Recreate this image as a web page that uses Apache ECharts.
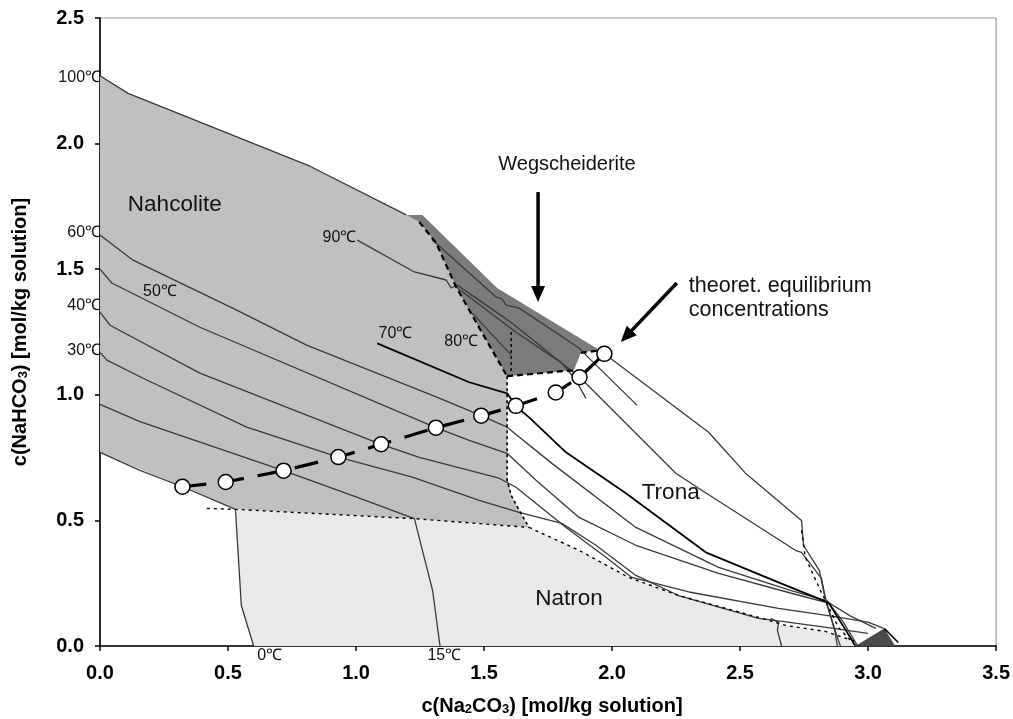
<!DOCTYPE html>
<html><head><meta charset="utf-8">
<script src="https://cdn.jsdelivr.net/npm/echarts@6/dist/echarts.min.js"></script>
<style>html,body{margin:0;padding:0;background:#fff}#c{width:1013px;height:719px}</style>
</head><body><div id="c"></div>
<script>
// ---------- tick labels ----------
const xTickValues = [0, 0.5, 1.0, 1.5, 2.0, 2.5, 3.0, 3.5];
const yTickValues = [0, 0.5, 1.0, 1.5, 2.0, 2.5];

// ---------- phase fields (polygons, data units) ----------
const nahcolite = [[0,2.27],[0.11,2.20],[0.82,1.91],[1.196,1.716],[1.247,1.688],[1.313,1.604],[1.391,1.429],[1.493,1.246],[1.590,1.074],[1.590,0.680],[1.606,0.600],[1.637,0.540],[1.664,0.490],[1.676,0.472],[1.228,0.507],[0.529,0.544],[0.322,0.634],[0,0.771]];
const natron = [[0.529,0.544],[1.228,0.507],[1.676,0.472],[1.871,0.381],[2.065,0.273],[2.260,0.201],[2.572,0.114],[2.677,0.082],[2.833,0.058],[2.950,0.012],[2.950,0],[0.600,0],[0.552,0.161]];
const wegscheiderite = [[1.196,1.716],[1.259,1.716],[1.551,1.425],[1.949,1.179],[1.878,1.167],[1.851,1.098],[1.590,1.074],[1.493,1.246],[1.391,1.429],[1.313,1.604],[1.247,1.688]];
const thermonatrite = [[2.950,0],[3.063,0.070],[3.106,0]];

// ---------- isotherms ----------
const iso0   = [[0,0.771],[0.156,0.699],[0.322,0.634],[0.529,0.544],[0.552,0.161],[0.600,0]];
const iso15  = [[0,0.962],[0.156,0.893],[0.717,0.698],[1.0,0.594],[1.228,0.507],[1.299,0.221],[1.328,0]];
const iso30  = [[0,1.169],[0.027,1.138],[0.168,1.066],[0.573,0.871],[0.931,0.752],[1.220,0.672],[1.481,0.580],[1.637,0.532],[1.804,0.488],[1.937,0.401],[2.093,0.281],[2.260,0.201],[2.572,0.110],[2.65,0.100],[2.83,0.075],[3.00,0.050]];
const iso40  = [[0,1.329],[0.039,1.277],[0.39,1.086],[1.098,0.803],[1.247,0.751],[1.559,0.668],[1.625,0.632],[1.820,0.472],[1.976,0.353],[2.077,0.273],[2.30,0.215],[2.65,0.150],[2.85,0.120],[3.00,0.095],[3.06,0.070]];
const iso50  = [[0,1.50],[0.046,1.445],[0.39,1.269],[1.312,0.869],[1.442,0.819],[1.590,0.767],[1.703,0.660],[1.871,0.512],[2.093,0.401],[2.416,0.289],[2.70,0.210],[2.85,0.170],[2.93,0.120],[3.03,0.070]];
const iso60  = [[0,1.636],[0.129,1.536],[0.526,1.341],[0.807,1.198],[1.325,0.987],[1.489,0.917],[1.590,0.871],[1.765,0.727],[2.093,0.472],[2.416,0.313],[2.70,0.220],[2.84,0.180],[2.90,0.100],[2.96,0]];
const iso70  = [[1.083,1.205],[1.442,1.050],[1.590,1.006],[1.625,0.954],[1.676,0.910],[1.820,0.771],[2.054,0.608],[2.366,0.373],[2.650,0.253],[2.845,0.173],[2.884,0.110],[2.950,0.002]];
const iso80  = [[1.454,1.325],[1.606,1.158]];
const iso90  = [[1.005,1.616],[1.228,1.489],[1.352,1.457],[1.372,1.425],[1.395,1.437],[1.520,1.349],[1.610,1.285],[1.804,1.126],[1.874,1.070],[2.249,0.688],[2.338,0.628],[2.716,0.381],[2.740,0.373],[2.818,0.269],[2.837,0.173],[2.884,0.022],[2.892,0]];
const iso100 = [[0,2.27],[0.11,2.20],[0.82,1.91],[1.196,1.716]];
const iso100b = [[1.970,1.163],[2.377,0.851],[2.521,0.688],[2.740,0.500],[2.748,0.400],[2.810,0.300],[2.830,0.200],[2.870,0.060],[2.880,0]];
const stubA  = [[1.298,1.616],[1.547,1.389],[1.571,1.381],[1.586,1.357],[1.637,1.345],[1.871,1.186],[1.910,1.146],[2.097,0.959]];
const stubB  = [[1.391,1.429],[1.625,1.249],[1.804,1.126],[1.859,1.058],[1.898,0.986]];
const ice267 = [[2.619,0.110],[2.650,0.094],[2.646,0.062],[2.662,0]];
const thermoEdge = [[3.063,0.070],[3.118,0.014]];

// ---------- field boundaries ----------
const bNahNatron = [[0.417,0.548],[0.529,0.544],[1.228,0.507],[1.676,0.472]];
const bNahTrona  = [[1.590,1.074],[1.590,0.660],[1.606,0.600],[1.637,0.540],[1.676,0.472]];
const bTronaNatron = [[1.676,0.472],[1.871,0.381],[2.065,0.273],[2.260,0.201],[2.572,0.114],[2.677,0.082],[2.833,0.058],[2.950,0.018]];
const bTronaThermo = [[2.740,0.460],[2.755,0.353],[2.814,0.221],[2.884,0.074],[2.950,0.002]];
const bWegLeft   = [[1.247,1.688],[1.313,1.604],[1.391,1.429],[1.493,1.246],[1.590,1.074]];
const bWegBottom = [[1.590,1.074],[1.851,1.098]];
const bWegTip    = [[1.878,1.167],[1.968,1.179]];
const bWegInner  = [[1.606,1.250],[1.606,1.085]];

// ---------- theoretical equilibrium concentrations ----------
const eqX = [0.322,0.491,0.717,0.931,1.098,1.312,1.489,1.624,1.780,1.873,1.970];
const eqY = [0.634,0.653,0.698,0.752,0.803,0.869,0.917,0.956,1.009,1.070,1.163];

// ---------- annotations ----------
const fieldNames = ['Nahcolite','Trona','Natron'];
const fieldNamePos = [[0.292,1.756],[2.229,0.608],[1.832,0.189]];
const wegName = ['Wegscheiderite'];
const wegPos = [[1.824,1.915]];
const noteLines = ['theoret. equilibrium','concentrations'];
const notePos = [[2.30,1.432],[2.30,1.337]];
const tempNames = ['100℃','60℃','40℃','30℃','50℃','90℃','70℃','80℃','0℃','15℃'];
const tempPos = [[0.004,2.262],[0.004,1.644],[0.004,1.357],[0.004,1.177],[0.234,1.409],[0.935,1.624],[1.154,1.245],[1.411,1.213],[0.663,-0.038],[1.345,-0.038]];
const tempAlign = ['right','right','right','right','center','center','center','center','center','center'];
const arrows = [[1.711,1.807,1.711,1.369],[2.253,1.445,2.034,1.210]];

const FONT = '"Liberation Sans", Arial, sans-serif';
const LINE = '#3a3a3a';

function polygon(name, pts, fill, z){
  return {type:'custom', name, coordinateSystem:'cartesian2d', data: pts, z, silent:true, clip:true,
    renderItem(params, api){
      if (params.dataIndex !== 0) return null;
      return {type:'polygon', shape:{points: pts.map(p => api.coord(p))}, style:{fill}};
    }};
}
function line(name, pts, opts){
  return Object.assign({type:'line', name, data: pts, symbol:'none', silent:true, animation:false, z:3,
    lineStyle:{color: LINE, width:1.3}}, opts || {});
}
function texts(names, pos, font, aligns){
  return {type:'custom', coordinateSystem:'cartesian2d', data: pos, z:10, silent:true, clip:false,
    renderItem(params, api){
      const p = api.coord(pos[params.dataIndex]);
      const a = aligns ? aligns[params.dataIndex] : 'center';
      return {type:'text', x:p[0], y:p[1], style:{text: names[params.dataIndex], align:a, verticalAlign:'middle', textAlign:a, textVerticalAlign:'middle', fill:'#111', font}};
    }};
}

const series = [
  polygon('Nahcolite', nahcolite, '#c0c0c0', 1),
  polygon('Natron', natron, '#e9e9e9', 1),
  polygon('Wegscheiderite', wegscheiderite, '#7b7b7b', 1),
  polygon('Thermonatrite', thermonatrite, '#4a4a4a', 1),
  line('0C', iso0), line('15C', iso15), line('30C', iso30), line('40C', iso40),
  line('50C', iso50), line('60C', iso60),
  line('70C', iso70, {lineStyle:{color:'#000', width:1.8}}),
  line('80C', iso80), line('90C', iso90), line('100C', iso100), line('100Cb', iso100b),
  line('stubA', stubA), line('stubB', stubB), line('ice267', ice267),
  line('thermoEdge', thermoEdge, {lineStyle:{color:'#000', width:1.6}}),
  line('bNN', bNahNatron, {lineStyle:{color:'#000', width:1.4, type:[3,4]}}),
  line('bNT', bNahTrona, {lineStyle:{color:'#000', width:1.6, type:[3,3]}}),
  line('bTN', bTronaNatron, {lineStyle:{color:'#000', width:1.4, type:[3,4]}}),
  line('bTT', bTronaThermo, {lineStyle:{color:'#000', width:1.4, type:[3,4]}}),
  line('bWL', bWegLeft, {lineStyle:{color:'#000', width:2.2, type:[6,4]}}),
  line('bWB', bWegBottom, {lineStyle:{color:'#000', width:2.2, type:[6,4]}}),
  line('bWT', bWegTip, {lineStyle:{color:'#000', width:2.2, type:[6,4]}}),
  line('bWI', bWegInner, {lineStyle:{color:'#000', width:1.5, type:[3,3]}}),
  line('eqLine', eqX.map((x,i)=>[x,eqY[i]]), {z:5, lineStyle:{color:'#000', width:3.2, type:[24,14]}}),
  {type:'scatter', name:'eq', data: eqX.map((x,i)=>[x,eqY[i]]), symbol:'circle', symbolSize:15, z:6, silent:true,
    itemStyle:{color:'#fff', borderColor:'#000', borderWidth:1.5, opacity:1}},
  texts(fieldNames, fieldNamePos, '22.5px ' + FONT),
  texts(wegName, wegPos, '20px ' + FONT),
  texts(noteLines, notePos, '21.5px ' + FONT, ['left','left']),
  texts(tempNames, tempPos, '16px ' + FONT, tempAlign),
  {type:'custom', coordinateSystem:'cartesian2d', data: arrows, encode:{x:[0,2], y:[1,3]}, z:9, silent:true, clip:false,
    renderItem(params, api){
      const a = arrows[params.dataIndex];
      const p1 = api.coord([a[0],a[1]]), p2 = api.coord([a[2],a[3]]);
      const dx = p2[0]-p1[0], dy = p2[1]-p1[1], L = Math.hypot(dx,dy), ux = dx/L, uy = dy/L;
      const hl = 16, hw = 7;
      const bx = p2[0]-ux*hl, by = p2[1]-uy*hl;
      return {type:'group', children:[
        {type:'line', shape:{x1:p1[0], y1:p1[1], x2:bx+ux*2, y2:by+uy*2}, style:{stroke:'#000', lineWidth:3.5}},
        {type:'polygon', shape:{points:[[p2[0],p2[1]],[bx-uy*hw, by+ux*hw],[bx+uy*hw, by-ux*hw]]}, style:{fill:'#000'}}
      ]};
    }}
];

const chart = echarts.init(document.getElementById('c'), null, {renderer:'canvas'});
chart.setOption({
  animation:false,
  backgroundColor:'#fff',
  grid:{left:100, right:15, top:18, bottom:73, show:true, borderColor:'#9a9a9a', borderWidth:1.2, backgroundColor:'transparent'},
  xAxis:{type:'value', min:0, max:3.5, interval:0.5,
    axisLine:{show:true, onZero:false, lineStyle:{color:'#000', width:1.6}},
    axisTick:{show:true, length:5, lineStyle:{color:'#000', width:1.5}},
    axisLabel:{show:true, color:'#000', fontSize:20, fontWeight:'bold', fontFamily:FONT, margin:17,
      formatter: v => xTickValues.includes(v) ? v.toFixed(1) : ''},
    splitLine:{show:false}},
  yAxis:{type:'value', min:0, max:2.5, interval:0.5,
    axisLine:{show:true, onZero:false, lineStyle:{color:'#000', width:1.6}},
    axisTick:{show:true, length:5, lineStyle:{color:'#000', width:1.5}},
    axisLabel:{show:true, color:'#000', fontSize:20, fontWeight:'bold', fontFamily:FONT, margin:16,
      formatter: v => yTickValues.includes(v) ? v.toFixed(1) : ''},
    splitLine:{show:false}},
  graphic:[
    {type:'text', x:552, y:706, style:{text:'c(Na{s|2}CO{s|3}) [mol/kg solution]', align:'center', verticalAlign:'middle', textAlign:'center', textVerticalAlign:'middle',
      font:'bold 20px ' + FONT, fill:'#000',
      rich:{s:{fontSize:13, fontWeight:'bold', fontFamily:FONT, verticalAlign:'bottom', lineHeight:12, fill:'#000'}}}},
    {type:'text', x:20, y:332, rotation:Math.PI/2, style:{text:'c(NaHCO{s|3}) [mol/kg solution]', align:'center', verticalAlign:'middle', textAlign:'center', textVerticalAlign:'middle',
      font:'bold 20px ' + FONT, fill:'#000',
      rich:{s:{fontSize:13, fontWeight:'bold', fontFamily:FONT, verticalAlign:'bottom', lineHeight:12, fill:'#000'}}}}
  ],
  series
});
</script></body></html>
